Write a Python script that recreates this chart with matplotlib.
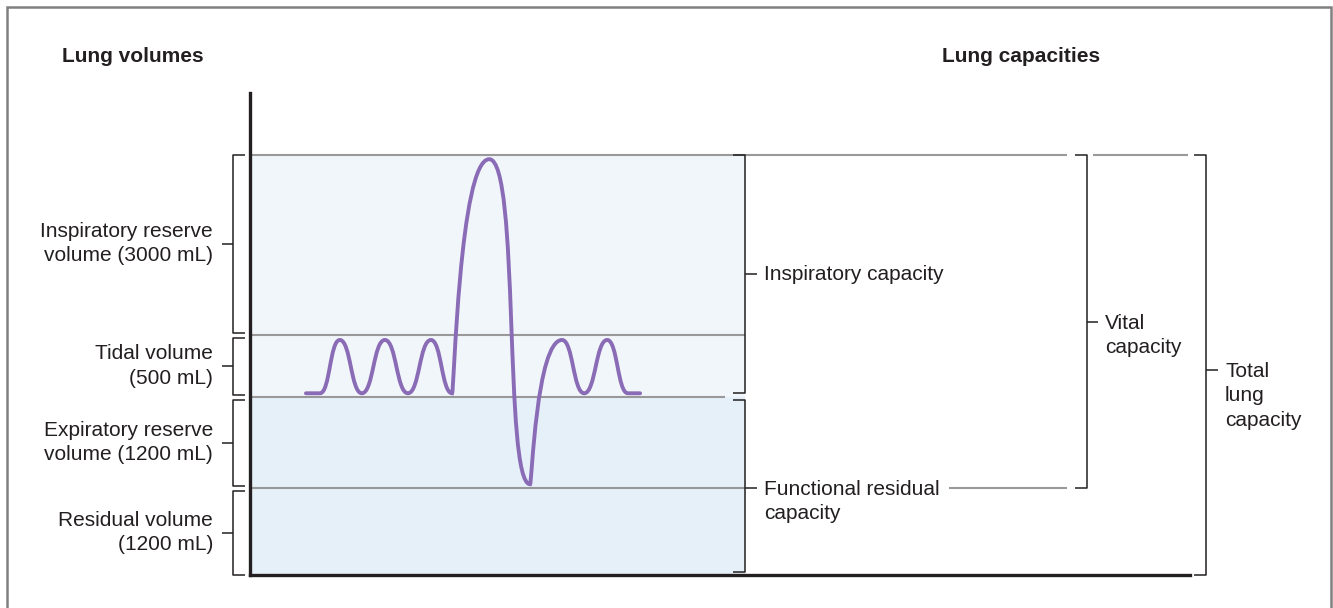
import numpy as np
import matplotlib
matplotlib.use('Agg')
import matplotlib.pyplot as plt
from matplotlib.path import Path
from matplotlib.patches import PathPatch, Rectangle
from matplotlib.transforms import blended_transform_factory

plt.rcParams['font.family'] = ['Liberation Sans', 'DejaVu Sans']

# lung volumes, bottom to top
volume_labels = ['Residual volume\n(1200 mL)',
                 'Expiratory reserve\nvolume (1200 mL)',
                 'Tidal volume\n(500 mL)',
                 'Inspiratory reserve\nvolume (3000 mL)']
volume_ml = [1200, 1200, 500, 3000]

# capacities as (first volume, last volume + 1)
capacity_labels = ['Inspiratory capacity',
                   'Functional residual\ncapacity',
                   'Vital\ncapacity',
                   'Total\nlung\ncapacity']
capacity_span = [(2, 4), (0, 2), (1, 4), (0, 4)]

# spirogram turning points: time (s), lung volume (mL)
breath_t = [1.19, 1.49, 1.91, 2.38, 2.87, 3.36, 3.85, 4.30,
            5.09, 5.96, 6.64, 7.11, 7.60, 8.04, 8.30]
breath_v = [2430, 2430, 2860, 2430, 2860, 2430, 2860, 2430,
            5830, 1250, 2860, 2430, 2860, 2430, 2430]

W, H = 1333, 608
edges = np.concatenate([[0], np.cumsum(volume_ml)]).astype(float)
# drawn height of each band (px); the diagram is not to scale
band_px = [87, 91, 62, 180]
edges_px = np.concatenate([[0], np.cumsum(band_px)]).astype(float)
s_lo = band_px[0] / volume_ml[0]
s_hi = band_px[-1] / volume_ml[-1]


def fwd(v):
    v = np.asarray(v, dtype=float)
    out = np.interp(v, edges, edges_px)
    out = np.where(v > edges[-1], edges_px[-1] + (v - edges[-1]) * s_hi, out)
    out = np.where(v < 0, v * s_lo, out)
    return out


def inv(p):
    p = np.asarray(p, dtype=float)
    out = np.interp(p, edges_px, edges)
    out = np.where(p > edges_px[-1], edges[-1] + (p - edges_px[-1]) / s_hi, out)
    out = np.where(p < 0, p / s_lo, out)
    return out


def nudge(v, dpx):
    return float(inv(fwd(v) + dpx))


fig = plt.figure(figsize=(W / 100, H / 100), dpi=100)
ax = fig.add_axes([250 / W, 33 / H, 940 / W, 482 / H])
ax.set_yscale('function', functions=(fwd, inv))
ax.set_xlim(0, 20)
ax.set_ylim(0, float(inv(482)))
ax.set_xticks([])
ax.set_yticks([])
ax.yaxis.set_minor_locator(matplotlib.ticker.NullLocator())
for s in ['top', 'right']:
    ax.spines[s].set_visible(False)
for s in ['left', 'bottom']:
    ax.spines[s].set_linewidth(2.4)
    ax.spines[s].set_color('#231f20')
ax.patch.set_alpha(0)

tx = blended_transform_factory(fig.transFigure, ax.transData)
fx = lambda p: p / W

ink = '#231f20'
grey = '#999999'
frc = edges[2]
total = edges[-1]

# shaded lung regions
x_shade = 10.53
ax.add_patch(Rectangle((0, 0), x_shade, frc, facecolor='#e6f0f9',
                       edgecolor='none', zorder=0))
ax.add_patch(Rectangle((0, frc), x_shade, total - frc, facecolor='#f1f6fa',
                       edgecolor='none', zorder=0))

# boundary lines between volumes
gl = dict(color=grey, lw=1.5, zorder=1, solid_capstyle='butt', clip_on=False)
ax.plot([fx(250), fx(1067)], [total, total], transform=tx, **gl)
ax.plot([fx(1093), fx(1188)], [total, total], transform=tx, **gl)
ax.plot([0, x_shade], [edges[3], edges[3]], **gl)
ax.plot([0, 10.11], [frc, frc], **gl)
ax.plot([0, x_shade], [edges[1], edges[1]], **gl)
ax.plot([fx(949), fx(1067)], [edges[1], edges[1]], transform=tx, **gl)

# spirogram, smooth turns between the turning points
verts = [(breath_t[0], breath_v[0])]
codes = [Path.MOVETO]
for i in range(len(breath_t) - 1):
    t0, v0 = breath_t[i], breath_v[i]
    t1, v1 = breath_t[i + 1], breath_v[i + 1]
    dt = t1 - t0
    k0 = k1 = 0.5
    if v1 - v0 > 1000:      # deep inspiration
        k0, k1 = 0.05, 0.8
    elif v0 - v1 > 1000:    # forced expiration
        k0, k1 = 0.75, 0.65
    elif v1 - v0 > 200 and v0 < 2000:   # recovery from the expiration
        k0, k1 = 0.65, 0.5
    verts += [(t0 + k0 * dt, v0), (t1 - k1 * dt, v1), (t1, v1)]
    codes += [Path.CURVE4] * 3
ax.add_patch(PathPatch(Path(verts, codes), facecolor='none',
                       edgecolor='#8a6cb6', lw=2.8, zorder=3,
                       capstyle='round'))

bl = dict(color=ink, lw=1.1, clip_on=False, solid_capstyle='butt')
txt = dict(fontsize=15, color=ink, linespacing=1.36)


def bracket(x, y0, y1, arm, tick, ymid=None):
    # vertical bar with end arms of length arm (signed) and a mid tick
    ax.plot([fx(x + arm), fx(x), fx(x), fx(x + arm)], [y0, y0, y1, y1],
            transform=tx, **bl)
    if ymid is None:
        ymid = float(inv((fwd(y0) + fwd(y1)) / 2))
    ax.plot([fx(x), fx(x + tick)], [ymid, ymid], transform=tx, **bl)
    return ymid


# lung volume brackets on the left
for i, lab in enumerate(volume_labels):
    y0 = nudge(edges[i], 2.5) if i > 0 else edges[i]
    y1 = nudge(edges[i + 1], -2.5) if i < 3 else edges[i + 1]
    ym = bracket(233, y0, y1, 12, -11)
    ax.text(fx(213), ym, lab, transform=tx, ha='right', va='center', **txt)

# lung capacity brackets on the right
specs = [(745, -12, 12), (745, -12, 12), (1087, -12, 11), (1206, -12, 12)]
for (a, b), lab, (x, arm, tick) in zip(capacity_span, capacity_labels, specs):
    y0, y1 = edges[a], edges[b]
    ymid = None
    if lab.startswith('Inspiratory'):
        y0 = nudge(y0, 4)
    elif lab.startswith('Functional'):
        y0 = nudge(y0, 3)
        y1 = nudge(y1, -3)
        ymid = edges[1]
    elif lab.startswith('Total'):
        ymid = nudge(float(inv(fwd(total) / 2)), -5)
    ym = bracket(x, y0, y1, arm, tick, ymid=ymid)
    if '\n' in lab:
        ax.text(fx(x + tick + 7), nudge(ym, 8), lab, transform=tx,
                ha='left', va='top', **txt)
    else:
        ax.text(fx(x + tick + 7), ym, lab, transform=tx,
                ha='left', va='center', **txt)

fig.text(62 / W, 1 - 57 / H, 'Lung volumes', fontsize=15, fontweight='bold',
         color=ink, va='center', ha='left')
fig.text(942 / W, 1 - 57 / H, 'Lung capacities', fontsize=15,
         fontweight='bold', color=ink, va='center', ha='left')

# outer frame
fig.patches.append(Rectangle((7 / W, -0.05), 1324 / W, 1.05 - 7 / H,
                             transform=fig.transFigure, fill=False,
                             edgecolor='#808080', lw=1.8))

fig.savefig('out.png', dpi=100)
